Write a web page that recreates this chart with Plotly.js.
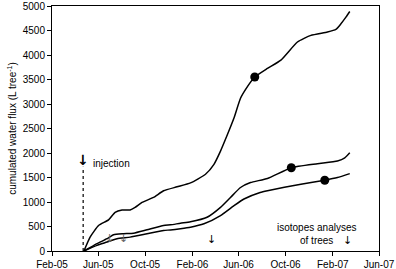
<!DOCTYPE html>
<html><head><meta charset="utf-8">
<script src="https://cdn.plot.ly/plotly-3.0.1.min.js"></script>
<style>html,body{margin:0;padding:0;background:#fff}#c{width:396px;height:269px}</style>
</head><body><div id="c"></div>
<script>
const topDates = ['2005-04-25','2005-05-11','2005-06-02','2005-06-28','2005-07-15','2005-08-02','2005-08-23','2005-09-05','2005-09-23','2005-10-23','2005-11-18','2005-12-23','2006-01-27','2006-03-07','2006-03-29','2006-04-15','2006-05-03','2006-05-20','2006-06-06','2006-06-24','2006-07-13','2006-08-15','2006-09-19','2006-11-01','2006-12-06','2007-01-18','2007-02-09','2007-02-22','2007-03-07','2007-03-17'];
const topVals  = [0,284,520,635,790,838,838,890,992,1093,1229,1310,1390,1567,1769,2038,2376,2713,3117,3354,3550,3725,3895,4265,4400,4468,4522,4636,4772,4887];

const midDates = ['2005-04-25','2005-05-29','2005-06-24','2005-07-11','2005-08-06','2005-09-01','2005-10-06','2005-11-18','2005-12-06','2006-01-01','2006-01-27','2006-03-11','2006-04-15','2006-05-11','2006-06-06','2006-07-02','2006-08-15','2006-10-16','2006-12-23','2007-02-13','2007-03-04','2007-03-17'];
const midVals  = [0,150,251,332,352,364,433,520,534,567,595,688,891,1093,1296,1397,1480,1700,1781,1836,1900,2004];

const lowDates = ['2005-04-25','2005-05-29','2005-06-24','2005-07-20','2005-08-23','2005-10-06','2005-11-18','2005-12-06','2006-01-01','2006-01-27','2006-03-03','2006-04-15','2006-05-20','2006-06-15','2006-07-27','2006-08-15','2006-11-10','2007-01-11','2007-02-13','2007-03-17'];
const lowVals  = [0,115,182,251,283,352,419,430,455,486,555,723,925,1061,1194,1230,1364,1445,1498,1579];

const dotDates = ['2006-07-13','2006-10-16','2007-01-11'];
const dotVals  = [3550,1700,1445];

const injectionDate = '2005-04-23';
const injectionTop = 1720;
const smallArrowDates = ['2005-06-30','2005-08-05','2006-03-23'];
const smallArrowVals = [265,265,230];
const xTickVals = ['2005-02-01','2005-06-01','2005-10-01','2006-02-01','2006-06-01','2006-10-01','2007-02-01','2007-06-01'];
const xTickText = ['Feb-05','Jun-05','Oct-05','Feb-06','Jun-06','Oct-06','Feb-07','Jun-07'];

const line = {color:'#000', width:1.5, shape:'spline', smoothing:0.5};
const traces = [
  {x:topDates, y:topVals, mode:'lines', line:line, hoverinfo:'skip'},
  {x:midDates, y:midVals, mode:'lines', line:line, hoverinfo:'skip'},
  {x:lowDates, y:lowVals, mode:'lines', line:line, hoverinfo:'skip'},
  {x:dotDates, y:dotVals, mode:'markers', marker:{color:'#000', size:9}, hoverinfo:'skip'}
];
const fnt = {family:'Liberation Sans, Arial, sans-serif', size:10, color:'#000'};
const ann = [
  {x:injectionDate, y:injectionTop, yanchor:'bottom', yshift:-3, text:'<b>↓</b>', showarrow:false, font:{family:'DejaVu Sans', size:14, color:'#000'}},
  {x:injectionDate, y:1790, xref:'x', yref:'y', text:'injection', showarrow:false, xanchor:'left', xshift:8, font:fnt},
  {x:'2006-12-23', y:486, text:'isotopes analyses', showarrow:false, font:fnt},
  {x:'2006-12-20', y:215, text:'of trees', showarrow:false, font:fnt},
  {x:'2007-03-10', y:215, text:'↓', showarrow:false, font:{family:'DejaVu Sans', size:11, color:'#000'}}
];
smallArrowDates.forEach((d,i)=>ann.push({x:d, y:smallArrowVals[i], text:'↓', showarrow:false, font:{family:'DejaVu Sans', size:11, color:i<2?'#666':'#000'}}));

const layout = {
  width:396, height:269,
  margin:{l:52, r:17, t:6, b:18},
  paper_bgcolor:'#fff', plot_bgcolor:'#fff',
  showlegend:false,
  font:fnt,
  xaxis:{type:'date', range:['2005-02-01','2007-06-01'], tickvals:xTickVals, ticktext:xTickText,
    showgrid:false, zeroline:false, showline:true, linecolor:'#000', linewidth:1, mirror:true,
    ticks:'outside', ticklen:4, tickcolor:'#000', tickfont:fnt, ticklabeloverflow:'allow'},
  yaxis:{range:[0,5000], dtick:500, showgrid:false, zeroline:false, showline:true, linecolor:'#000', linewidth:1, mirror:true,
    ticks:'outside', ticklen:4, tickcolor:'#000', tickfont:fnt, ticklabeloverflow:'allow',
    title:{text:'cumulated water flux (L tree<sup>-1</sup>)', font:fnt, standoff:4}},
  shapes:[{type:'line', xref:'x', yref:'y', x0:injectionDate, x1:injectionDate, y0:0, y1:injectionTop, line:{color:'#000', width:1.2, dash:'dot'}}],
  annotations:ann
};
Plotly.newPlot('c', traces, layout, {staticPlot:true, displayModeBar:false});
</script></body></html>
